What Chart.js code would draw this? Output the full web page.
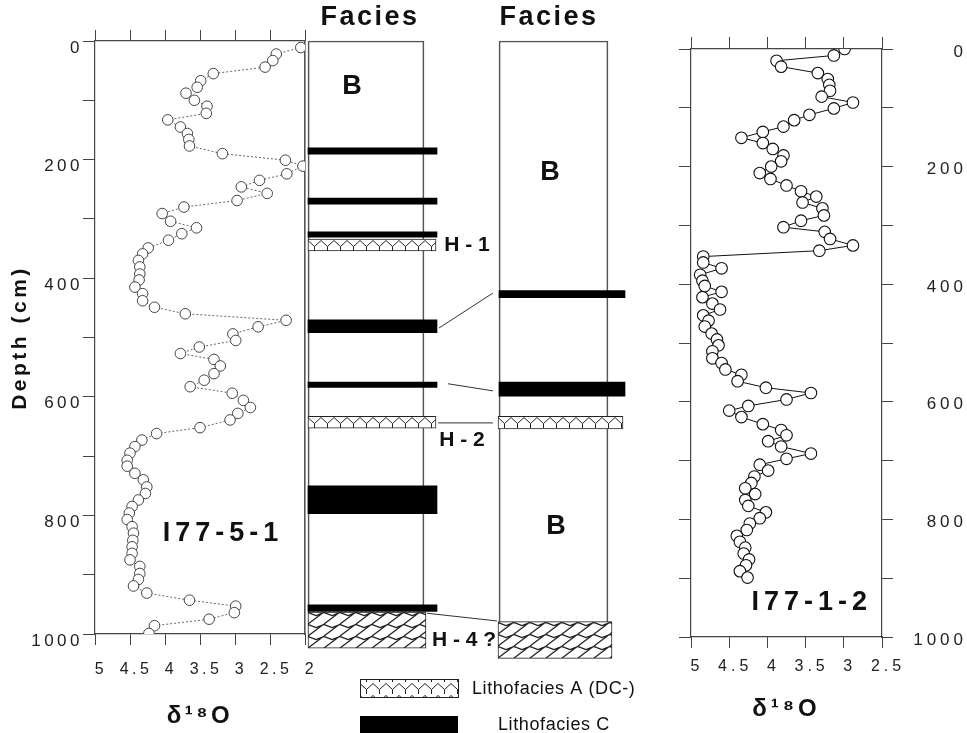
<!DOCTYPE html>
<html>
<head>
<meta charset="utf-8">
<script src="https://cdn.jsdelivr.net/npm/chart.js@4.4.1/dist/chart.umd.min.js"></script>
<style>
  body { margin: 0; background: #fff; }
  #wrap { position: relative; width: 967px; height: 733px; }
  #wrap canvas { position: absolute; left: 0; top: 0; }
</style>
</head>
<body>
<div id="wrap">
  <canvas id="core5" width="967" height="733"></canvas>
  <canvas id="core1" width="967" height="733"></canvas>
  <canvas id="facies" width="967" height="733"></canvas>
</div>
<script>
// core I77-5-1 : depth (cm) / d18O
const depth51 = [11,22,33,44,55,67,78,88,100,110,122,133,145,156,166,177,190,201,211,224,235,246,257,269,280,291,304,315,325,336,349,359,370,381,393,403,415,426,438,449,460,471,482,494,505,516,527,537,548,561,572,583,594,606,618,628,639,652,662,673,684,695,707,717,729,740,752,763,774,785,796,807,819,830,842,853,864,875,886,898,908,919,931,943,953,964,975,986,999];
const d18O51 = [2.06,2.41,2.46,2.57,3.31,3.49,3.54,3.70,3.58,3.40,3.41,3.96,3.78,3.68,3.66,3.65,3.18,2.28,2.03,2.26,2.65,2.91,2.54,2.97,3.73,4.04,3.92,3.55,3.76,3.95,4.24,4.32,4.38,4.36,4.36,4.37,4.43,4.32,4.32,4.15,3.71,2.27,2.67,3.03,2.99,3.51,3.78,3.30,3.21,3.30,3.44,3.64,3.04,2.88,2.78,2.96,3.07,3.50,4.12,4.33,4.43,4.50,4.54,4.54,4.43,4.31,4.26,4.28,4.38,4.47,4.51,4.54,4.47,4.45,4.46,4.47,4.47,4.50,4.36,4.36,4.38,4.45,4.26,3.65,2.99,3.01,3.37,4.15,4.23];

// core I77-1-2
const depth12 = [0,11,20,30,41,51,61,71,81,91,101,112,121,132,141,151,160,170,181,191,200,211,221,232,242,251,261,271,283,292,303,311,323,334,343,353,363,373,384,394,403,413,422,433,443,453,462,472,484,494,504,514,526,534,545,554,565,576,585,596,607,615,626,638,648,657,667,676,688,697,707,717,727,738,747,757,767,777,788,798,807,818,828,838,848,858,868,878,888,899];
const d18O12 = [2.99,3.13,3.88,3.82,3.34,3.21,3.19,3.18,3.29,2.88,3.13,3.45,3.65,3.79,4.06,4.34,4.06,3.93,3.79,3.82,3.95,4.10,3.96,3.75,3.56,3.36,3.54,3.28,3.26,3.56,3.79,3.25,3.18,2.88,3.32,4.84,4.84,4.60,4.88,4.85,4.82,4.60,4.85,4.72,4.62,4.84,4.77,4.82,4.73,4.66,4.64,4.72,4.72,4.60,4.55,4.34,4.39,4.02,3.43,3.75,4.25,4.50,4.34,4.06,3.82,3.75,3.99,3.82,3.43,3.75,4.10,3.99,4.17,4.21,4.29,4.16,4.29,4.25,4.02,4.10,4.23,4.27,4.40,4.36,4.29,4.31,4.24,4.28,4.36,4.26];

// tick marks / labels
const depthMarks = [0,100,200,300,400,500,600,700,800,900,1000];
const depthLabels = [0,200,400,600,800,1000];
const d18OTicks51 = [2,2.5,3,3.5,4,4.5,5];
const d18OTicks12 = [2.5,3,3.5,4,4.5,5];

// facies intervals (depth top, depth bottom in cm)
const faciesC51 = [[180,191],[265,275],[322,331],[470,492],[575,584],[750,797],[951,962]];
const faciesA51 = [[334,354],[633,653]];
const faciesA51thick = [[963,1024]];
const faciesC12 = [[421,433],[575,599]];
const faciesA12 = [[633,654]];
const faciesA12thick = [[979,1041]];
// correlation lines: depth in left column -> depth in right column
const ties = [[484,425],[578,590],[644,644],[965,978]];

// page layout of the facies columns (px)
const COL51 = { left: 308, right: 424, bar: 437, thick: 426 };
const COL12 = { left: 499, right: 608, bar: 625, thick: 612 };
const TIE_X = [[439,493],[448,493],[438,493],[427,497]];

const FONT = '"Liberation Sans", Arial, Helvetica, sans-serif';
Chart.defaults.font.family = FONT;
Chart.defaults.color = '#222';

const spacing = (ls) => ({
    id: 'spacing',
    beforeLayout(c) { c.ctx.letterSpacing = ls; },
    beforeDraw(c) { c.ctx.letterSpacing = ls; }
});

function coreLabel(text, v, d) {
    return {
        id: 'coreLabel',
        afterDraw(c) {
            const ctx = c.ctx;
            ctx.save();
            ctx.letterSpacing = '5px';
            ctx.font = 'bold 27px ' + FONT;
            ctx.fillStyle = '#111';
            ctx.textAlign = 'center';
            ctx.textBaseline = 'middle';
            ctx.fillText(text, c.scales.x.getPixelForValue(v), c.scales.y.getPixelForValue(d));
            ctx.restore();
        }
    };
}

const axisGrid = (len) => ({ drawOnChartArea: false, tickLength: len, color: '#444', lineWidth: 1 });
const axisBorder = { color: '#444', width: 1.2 };
const setTicks = (arr) => (s) => { s.ticks = arr.map(v => ({ value: v })); };

// ---------- core I77-5-1 ----------
new Chart(document.getElementById('core5'), {
    type: 'scatter',
    data: {
        datasets: [{
            data: depth51.map((d, i) => ({ x: d18O51[i], y: d })),
            showLine: true,
            borderColor: '#666',
            borderWidth: 1,
            borderDash: [2, 2],
            pointRadius: 5.3,
            pointBackgroundColor: '#fff',
            pointBorderColor: '#444',
            pointBorderWidth: 1
        }]
    },
    options: {
        responsive: false,
        animation: false,
        events: [],
        layout: { padding: { left: 0, top: 0, right: 637, bottom: 0 } },
        plugins: { legend: { display: false }, tooltip: { enabled: false } },
        scales: {
            x: {
                type: 'linear', position: 'bottom', min: 2, max: 5, reverse: true,
                afterBuildTicks: setTicks(d18OTicks51),
                afterFit: s => { s.height = 99; },
                grid: axisGrid(11), border: axisBorder,
                ticks: { callback: v => String(v), font: { size: 16 }, padding: 15, labelOffset: 6, maxRotation: 0, autoSkip: false },
                title: { display: true, text: 'δ¹⁸O', color: '#111', font: { size: 24, weight: 'bold' }, padding: { top: 0, bottom: 2 } }
            },
            xt: {
                type: 'linear', position: 'top', min: 2, max: 5, reverse: true,
                afterBuildTicks: setTicks(d18OTicks51),
                afterFit: s => { s.height = 41; },
                grid: axisGrid(11), border: axisBorder,
                ticks: { display: false }
            },
            y: {
                type: 'linear', position: 'left', min: 0, max: 1000, reverse: true,
                afterBuildTicks: setTicks(depthMarks),
                afterFit: s => { s.width = 95; },
                grid: axisGrid(12), border: axisBorder,
                ticks: { callback: v => depthLabels.includes(v) ? v : '', font: { size: 17 }, padding: 0, labelOffset: 7, autoSkip: false },
                title: { display: true, text: 'Depth (cm)', color: '#111', font: { size: 21, weight: 'bold' }, padding: { top: 8, bottom: 0 } }
            },
            yr: {
                type: 'linear', position: 'right', min: 0, max: 1000, reverse: true,
                afterFit: s => { s.width = 25; },
                grid: { display: false },
                border: { color: '#555', width: 1.6 },
                ticks: { display: false }
            }
        }
    },
    plugins: [spacing('3.5px'), coreLabel('I77-5-1', 3.17, 830)]
});

// ---------- core I77-1-2 ----------
new Chart(document.getElementById('core1'), {
    type: 'scatter',
    data: {
        datasets: [{
            data: depth12.map((d, i) => ({ x: d18O12[i], y: d })),
            xAxisID: 'x',
            yAxisID: 'y',
            showLine: true,
            borderColor: '#111',
            borderWidth: 1,
            pointRadius: 5.8,
            pointBackgroundColor: '#fff',
            pointBorderColor: '#111',
            pointBorderWidth: 1.1
        }]
    },
    options: {
        responsive: false,
        animation: false,
        events: [],
        layout: { padding: { left: 671, top: 0, right: 0, bottom: 0 } },
        plugins: { legend: { display: false }, tooltip: { enabled: false } },
        scales: {
            x: {
                type: 'linear', position: 'bottom', min: 2.5, max: 5, reverse: true,
                afterBuildTicks: setTicks(d18OTicks12),
                afterFit: s => { s.height = 96; },
                grid: axisGrid(11), border: axisBorder,
                ticks: { callback: v => String(v), font: { size: 16 }, padding: 9, labelOffset: 6, maxRotation: 0, autoSkip: false },
                title: { display: true, text: 'δ¹⁸O', color: '#111', font: { size: 24, weight: 'bold' }, padding: { top: 0, bottom: 9 } }
            },
            xt: {
                type: 'linear', position: 'top', min: 2.5, max: 5, reverse: true,
                afterBuildTicks: setTicks(d18OTicks12),
                afterFit: s => { s.height = 49; },
                grid: axisGrid(12), border: axisBorder,
                ticks: { display: false }
            },
            yl: {
                type: 'linear', position: 'left', min: 0, max: 1000, reverse: true,
                afterBuildTicks: setTicks(depthMarks),
                afterFit: s => { s.width = 20; },
                grid: axisGrid(12), border: axisBorder,
                ticks: { display: false }
            },
            y: {
                type: 'linear', position: 'right', min: 0, max: 1000, reverse: true,
                afterBuildTicks: setTicks(depthMarks),
                afterFit: s => { s.width = 85; },
                grid: axisGrid(11), border: axisBorder,
                ticks: { callback: v => depthLabels.includes(v) ? v : '', font: { size: 17 }, crossAlign: 'far', labelOffset: 3, autoSkip: false }
            }
        }
    },
    plugins: [spacing('4px'), coreLabel('I77-1-2', 3.42, 942)]
});

// ---------- facies columns ----------
function makeTile(kind) {
    const c = document.createElement('canvas');
    const g = c.getContext('2d');
    if (kind === 'thin') {
        c.width = 13; c.height = 12;
        g.fillStyle = '#fff'; g.fillRect(0, 0, 13, 12);
        g.strokeStyle = '#222'; g.lineWidth = 1;
        g.beginPath();
        g.moveTo(0, 1.5); g.lineTo(6.5, 7.5); g.lineTo(13, 1.5);
        g.moveTo(6.5, 7.5); g.lineTo(6.5, 12);
        g.stroke();
    } else {
        // slanted brick pattern
        c.width = 16; c.height = 12;
        g.fillStyle = '#fff'; g.fillRect(0, 0, 16, 12);
        g.strokeStyle = '#222'; g.lineWidth = 1.3;
        g.beginPath();
        g.moveTo(0, 12); g.lineTo(16, 0);
        g.moveTo(-16, 12); g.lineTo(0, 0);
        g.moveTo(16, 12); g.lineTo(32, 0);
        g.moveTo(0, 0.5); g.lineTo(8, 3.5); g.lineTo(16, 0.5);
        g.moveTo(0, 12.5); g.lineTo(8, 15.5); g.lineTo(16, 12.5);
        g.stroke();
    }
    return c;
}
const patternCache = {};
function pattern(ctx, kind, x0, y0) {
    const key = kind + '|' + Math.round(x0) + '|' + Math.round(y0);
    if (!patternCache[key]) {
        const p = ctx.createPattern(makeTile(kind), 'repeat');
        p.setTransform(new DOMMatrix().translate(Math.round(x0), Math.round(y0)));
        patternCache[key] = p;
    }
    return patternCache[key];
}
const patternFill = (kind) => (c) => {
    if (!c.raw || !c.chart.scales.y) return '#fff';
    const s = c.chart.scales;
    const x0 = s.x.getPixelForValue(c.raw.x) - c.dataset.barThickness / 2;
    const y0 = s.y.getPixelForValue(c.raw.y[0]);
    return pattern(c.chart.ctx, kind, x0, y0);
};

function bars(ranges, x0, x1, style, order) {
    return Object.assign({
        type: 'bar',
        data: ranges.map(r => ({ x: (x0 + x1) / 2, y: r })),
        barThickness: x1 - x0,
        stack: 'f',
        borderSkipped: false,
        clip: false,
        order: order
    }, style);
}
const frameStyle = { backgroundColor: 'rgba(0,0,0,0)', borderColor: '#555', borderWidth: 1 };
const cStyle = { backgroundColor: '#000', borderWidth: 0 };
const thinStyle = { backgroundColor: patternFill('thin'), borderColor: '#222', borderWidth: 1 };
const thickStyle = { backgroundColor: patternFill('thick'), borderColor: '#222', borderWidth: 1 };

const faciesSets = [
    bars([[0, 1000]], COL51.left, COL51.right, frameStyle, 10),
    bars([[0, 990]], COL12.left, COL12.right, frameStyle, 10),
    bars(faciesA51thick, COL51.left, COL51.thick, thickStyle, 5),
    bars(faciesA12thick, COL12.left - 1, COL12.thick, thickStyle, 5),
    bars(faciesC51, COL51.left, COL51.bar, cStyle, 3),
    bars(faciesC12, COL12.left, COL12.bar, cStyle, 3),
    bars(faciesA51, COL51.left, COL51.bar - 1, thinStyle, 2),
    bars(faciesA12, COL12.left - 1, COL12.bar - 2, thinStyle, 2)
];
ties.forEach((t, i) => {
    faciesSets.push({
        type: 'line',
        data: [{ x: TIE_X[i][0], y: t[0] }, { x: TIE_X[i][1], y: t[1] }],
        borderColor: '#333',
        borderWidth: 1,
        pointRadius: 0,
        clip: false,
        order: 0
    });
});

const faciesLabels = [
    { text: 'B', x: 352, depth: 76, size: 27 },
    { text: 'B', x: 550, depth: 221, size: 27 },
    { text: 'B', x: 556, depth: 818, size: 27 },
    { text: 'H - 1', x: 467, depth: 344, size: 21 },
    { text: 'H - 2', x: 462, depth: 673, size: 21 },
    { text: 'H - 4 ?', x: 464, depth: 1010, size: 21 }
];

const faciesText = {
    id: 'faciesText',
    afterDraw(chart) {
        const ctx = chart.ctx;
        const y = chart.scales.y;
        ctx.save();
        ctx.fillStyle = '#111';
        ctx.textAlign = 'center';
        ctx.textBaseline = 'middle';
        ctx.font = 'bold 27px ' + FONT;
        ctx.letterSpacing = '2.5px';
        ctx.fillText('Facies', 370, 18);
        ctx.fillText('Facies', 549, 18);
        faciesLabels.forEach(l => {
            ctx.font = 'bold ' + l.size + 'px ' + FONT;
            ctx.letterSpacing = '0px';
            ctx.fillText(l.text, l.x, y.getPixelForValue(l.depth));
        });
        // legend
        ctx.fillStyle = pattern(ctx, 'thin', 360, 682);
        ctx.fillRect(360, 679, 98, 18);
        ctx.strokeStyle = '#222';
        ctx.lineWidth = 1;
        ctx.strokeRect(360.5, 679.5, 98, 18);
        ctx.fillStyle = '#000';
        ctx.fillRect(360, 716, 98, 17);
        ctx.fillStyle = '#111';
        ctx.textAlign = 'left';
        ctx.font = '18px ' + FONT;
        ctx.letterSpacing = '0.6px';
        ctx.fillText('Lithofacies A (DC-)', 472, 689);
        ctx.fillText('Lithofacies C', 498, 725);
        ctx.restore();
    }
};

new Chart(document.getElementById('facies'), {
    type: 'bar',
    data: { datasets: faciesSets },
    options: {
        responsive: false,
        animation: false,
        events: [],
        layout: { padding: { left: 0, top: 41, right: 0, bottom: 99 } },
        plugins: { legend: { display: false }, tooltip: { enabled: false } },
        scales: {
            x: { type: 'linear', min: 0, max: 967, offset: false, display: false },
            y: { type: 'linear', min: 0, max: 1000, reverse: true, stacked: false, display: false }
        }
    },
    plugins: [faciesText]
});
</script>
</body>
</html>
